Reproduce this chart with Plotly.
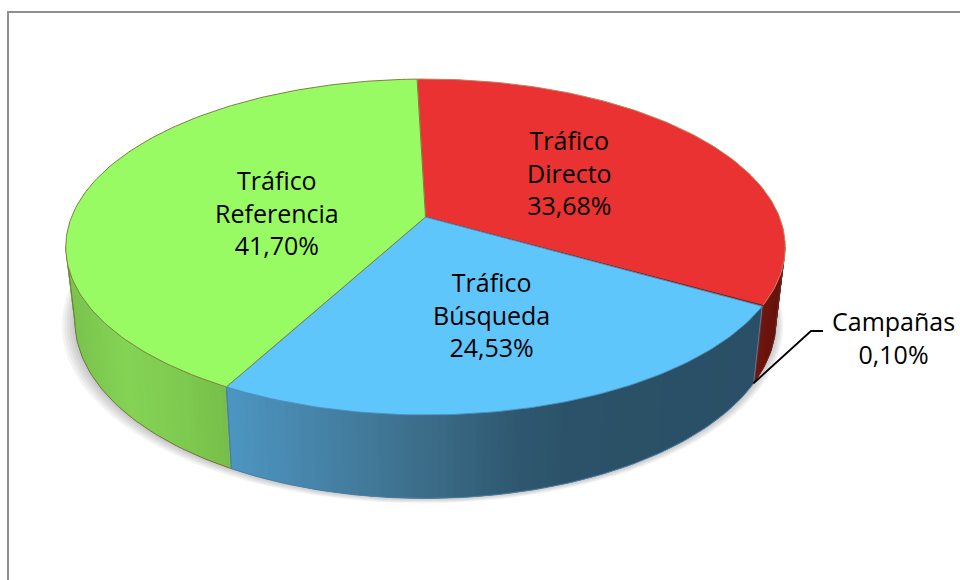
import math
import plotly.graph_objects as go

# Data
categories = ["Tráfico<br>Directo", "Campañas", "Tráfico<br>Búsqueda", "Tráfico<br>Referencia"]
values = [33.68, 0.10, 24.53, 41.70]

# Styles
top_colors = ["#EA3232", "#8A1A14", "#5FC6FC", "#98FB64"]
top_edges = ["#C4805A", "#8A1A14", "#4C8FBE", "#7F7F3F"]
wall_edges = ["#6E2A20", "#6E2A20", "#4A7FA8", "#7A7048"]
wall_stops = [
    [(740, "#7A1A12"), (790, "#5E0F0A")],
    [(740, "#7A1A12"), (790, "#5E0F0A")],
    [(227, "#4C97C3"), (300, "#4888AE"), (400, "#3F7391"), (520, "#2F5870"), (570, "#2B5268"), (760, "#2A4F66")],
    [(60, "#76C04C"), (130, "#84D355"), (180, "#7FCB50"), (235, "#76BE49")],
]
label_pos = [(569, 172), (893, 337), (491, 314), (277, 212)]

# Projection of the tilted disc
CX, CY, A, B, K = 425.5, 217, 354, 162.6, 0.1786
LOW_A, LOW_B, LOW_Y = 345, 172, 289
START = -1.6


def pt(theta, low=False):
    t = math.radians(theta)
    u, v = math.sin(t), math.cos(t)
    w = 1 + K * v
    if low:
        return CX + LOW_A * u / w, LOW_Y - LOW_B * v / w
    return CX + A * u / w, CY - B * v / w


def hex2rgb(h):
    return tuple(int(h[i:i + 2], 16) for i in (1, 3, 5))


def grad(stops, x):
    if x <= stops[0][0]:
        return stops[0][1]
    for (x0, c0), (x1, c1) in zip(stops, stops[1:]):
        if x <= x1:
            f = (x - x0) / (x1 - x0)
            a, b = hex2rgb(c0), hex2rgb(c1)
            return "#%02X%02X%02X" % tuple(round(p + (q - p) * f) for p, q in zip(a, b))
    return stops[-1][1]


def frange(a, b, n):
    return [a + (b - a) * i / n for i in range(n + 1)]


fig = go.Figure()


def poly(xs, ys, fill, line=None, width=1):
    fig.add_trace(go.Scatter(
        x=xs, y=ys, mode="lines", fill="toself", fillcolor=fill,
        line=dict(color=line or fill, width=width), hoverinfo="skip", showlegend=False))


def stroke(pts, color, width=1):
    fig.add_trace(go.Scatter(x=[p[0] for p in pts], y=[p[1] for p in pts], mode="lines",
                             line=dict(color=color, width=width), hoverinfo="skip", showlegend=False))


# Soft shadow below the disc
for grow in [10, 8, 6, 4, 2]:
    ring = [pt(th, True) for th in frange(0, 360, 120)]
    poly([CX + (x - CX) * (1 + grow / 345) - grow * 0.3 for x, _ in ring],
         [y + grow * 0.5 for _, y in ring],
         "rgba(0,0,0,0.045)", "rgba(0,0,0,0)", 0)

# Slice spans
total = sum(values)
spans = []
a = START
for val in values:
    b = a + val / total * 360
    spans.append((a, b))
    a = b

# Outer walls: only the part between the two tangent angles of the disc shows
VIS_A, VIS_B = 100.3, 259.7
OVERLAP = 1.2
for i, (a, b) in enumerate(spans):
    lo, hi = max(a, VIS_A), min(b, VIS_B)
    if hi <= lo:
        continue
    n = max(1, int(hi - lo))
    th = frange(lo, hi, n)
    for t0, t1 in zip(th, th[1:]):
        t1x = min(t1 + OVERLAP, hi)
        p0, p1 = pt(t0), pt(t1x)
        q1, q0 = pt(t1x, True), pt(t0, True)
        c = grad(wall_stops[i], (p0[0] + q0[0]) / 2)
        poly([p0[0], p1[0], q1[0], q0[0], p0[0]], [p0[1], p1[1], q1[1], q0[1], p0[1]], c, "rgba(0,0,0,0)", 0)

# Wall outlines
for i, (a, b) in enumerate(spans):
    lo, hi = max(a, VIS_A), min(b, VIS_B)
    if hi <= lo:
        continue
    th = frange(lo, hi, max(1, int(hi - lo)))
    stroke([pt(t, True) for t in th], wall_edges[i])
    for t in (lo, hi):
        stroke([pt(t), pt(t, True)], "#4A7FA8" if i == 2 or (i == 3 and t == lo) else wall_edges[i])

# Top faces
for i, (a, b) in enumerate(spans):
    arc = [pt(t) for t in frange(a, b, max(2, int(b - a)))]
    xs = [CX] + [p[0] for p in arc] + [CX]
    ys = [CY] + [p[1] for p in arc] + [CY]
    poly(xs, ys, top_colors[i], top_edges[i], 1)

# Leader line for the small slice
lead_start = pt(spans[1][0], True)
stroke([(lead_start[0] - 1, lead_start[1] + 1), (811, 331), (823, 331)], "#000000", 1.8)

# Labels
for cat, val, (x, y) in zip(categories, values, label_pos):
    txt = cat + "<br>" + f"{val:.2f}%".replace(".", ",")
    fig.add_annotation(x=x, y=y, text=txt, showarrow=False, xanchor="center",
                       yanchor="middle", align="center",
                       font=dict(family="Open Sans", size=25, color="#000000"))

# Frame of the screenshot
fig.add_shape(type="rect", x0=8, y0=12, x1=990, y1=610, line=dict(color="#8F8F8F", width=2), layer="below")

fig.update_layout(
    width=960, height=580, margin=dict(l=0, r=0, t=0, b=0), showlegend=False,
    paper_bgcolor="#FFFFFF", plot_bgcolor="#FFFFFF",
    xaxis=dict(range=[0, 960], visible=False, fixedrange=True),
    yaxis=dict(range=[580, 0], visible=False, fixedrange=True),
)
fig.write_html("out.html", post_script="document.body.style.margin='0';", config={"displayModeBar": False})
